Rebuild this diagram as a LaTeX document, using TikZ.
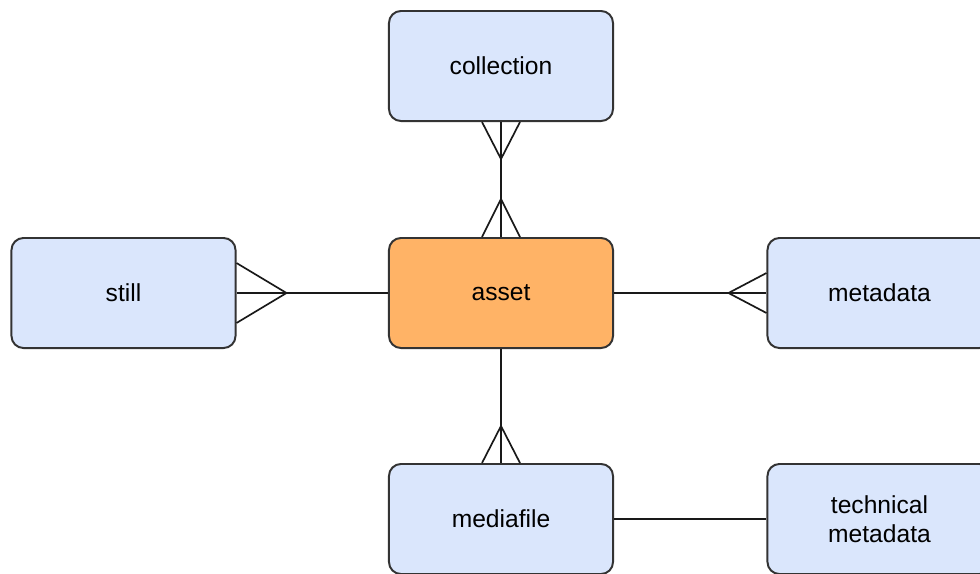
\documentclass[tikz,border=0pt]{standalone}
\usepackage{fontspec}
\setmainfont{Liberation Sans}
\usetikzlibrary{calc}

\definecolor{entityblue}{HTML}{DAE6FC}
\definecolor{entityorange}{HTML}{FFB366}
\definecolor{edgegray}{HTML}{333333}

\tikzset{
  entity/.style={draw=edgegray, line width=1.4pt, rounded corners=0.3cm, fill=entityblue,
    minimum width=5.6cm, minimum height=2.75cm, align=center, text=black,
    font=\fontsize{17.5}{20.6}\selectfont},
  link/.style={draw=black!90, line width=1.2pt},
}

\begin{document}
\begin{tikzpicture}[x=0.025cm,y=-0.025cm]
    % Page frame
    \useasboundingbox (0,0) rectangle (980,573);
    \clip (0,0) rectangle (980,573);

    % Entities
    \node[entity] (collection) at (501,66) {collection};
    \node[entity] (still) at (123.5,293) {still};
    \node[entity, fill=entityorange] (asset) at (501,293) {asset};
    \node[entity] (metadata) at (879.5,293) {metadata};
    \node[entity] (mediafile) at (501,519) {mediafile};
    \node[entity] (techmeta) at (879.5,519) {technical\\metadata};

    % Relationship lines
    \draw[link] (collection) -- (asset);
    \draw[link] (still) -- (asset);
    \draw[link] (asset) -- (metadata);
    \draw[link] (asset) -- (mediafile);
    \draw[link] (mediafile) -- (techmeta);

    % Crow's feet (many ends)
    \draw[link] ($(collection.south)+(-19,0)$) -- ($(collection.south)+(0,37)$) -- ($(collection.south)+(19,0)$);
    \draw[link] ($(asset.north)+(-19,0)$) -- ($(asset.north)+(0,-38)$) -- ($(asset.north)+(19,0)$);
    \draw[link] ($(still.east)+(0,-30)$) -- ($(still.east)+(50,0)$) -- ($(still.east)+(0,30)$);
    \draw[link] ($(metadata.west)+(0,-20)$) -- ($(metadata.west)+(-38,0)$) -- ($(metadata.west)+(0,20)$);
    \draw[link] ($(mediafile.north)+(-19,0)$) -- ($(mediafile.north)+(0,-37)$) -- ($(mediafile.north)+(19,0)$);
\end{tikzpicture}
\end{document}
